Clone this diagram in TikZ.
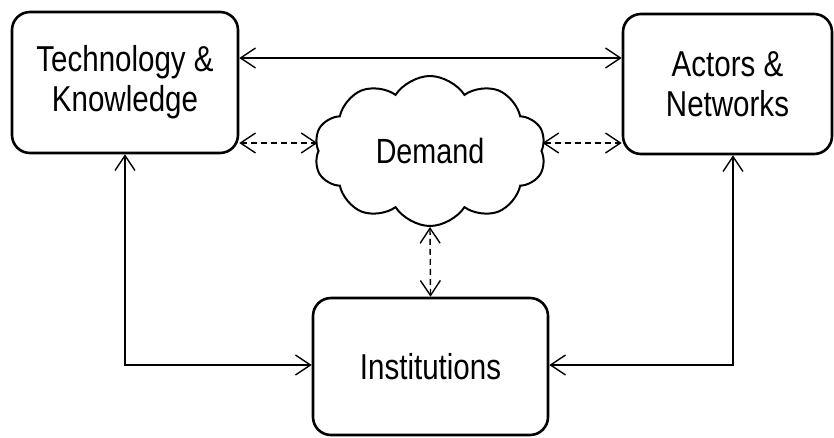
\documentclass[tikz,border=0pt]{standalone}
\usepackage{fontspec}
\setmainfont{Liberation Sans}[FakeStretch=0.82]
\usetikzlibrary{arrows.meta,shapes.symbols,calc}

\begin{document}
\begin{tikzpicture}[x=1pt,y=-1pt,
  box/.style={draw, line width=2.6pt, rounded corners=18pt, align=center,
    font=\fontsize{36}{40}\selectfont, inner sep=0pt},
  link/.style={line width=1.4pt, {Straight Barb[length=15pt,width=20pt]}-{Straight Barb[length=15pt,width=20pt]}},
  dlink/.style={link, dash pattern=on 6pt off 4pt}]
\useasboundingbox (0,0) rectangle (834,437);

% the four blocks
\node[box, minimum width=226pt, minimum height=141pt] (tk) at (125,82.5)
  {Technology \&\\Knowledge};
\node[box, minimum width=209pt, minimum height=140pt] (an) at (727.5,84)
  {Actors \&\\Networks};
\node[box, minimum width=235pt, minimum height=137pt] (inst) at (430.5,366.5)
  {Institutions};
\node[cloud, draw, line width=2pt, cloud puffs=10, cloud puff arc=115,
  shape border rotate=18,
  aspect=1.55, minimum width=232pt, minimum height=150pt, inner sep=0pt,
  font=\fontsize{35}{38}\selectfont] (dem) at (430,151) {Demand};

% helper heights for the horizontal links
\coordinate (ytop) at (0,58);
\coordinate (ydash) at (0,143);
\coordinate (ylow) at (0,365);
\coordinate (xr) at (733,0);

% solid links
\draw[link] (tk.east |- ytop) -- (an.west |- ytop);
\draw[link] (tk.south) |- (inst.west |- ylow);
\draw[link] (an.south -| xr) |- (inst.east |- ylow);

% dashed links to demand
\draw[dlink] (tk.east |- ydash) -- (dem.west |- ydash);
\draw[dlink] (dem.east |- ydash) -- (an.west |- ydash);
\draw[dlink] (dem.south) -- (inst.north);
\end{tikzpicture}
\end{document}
